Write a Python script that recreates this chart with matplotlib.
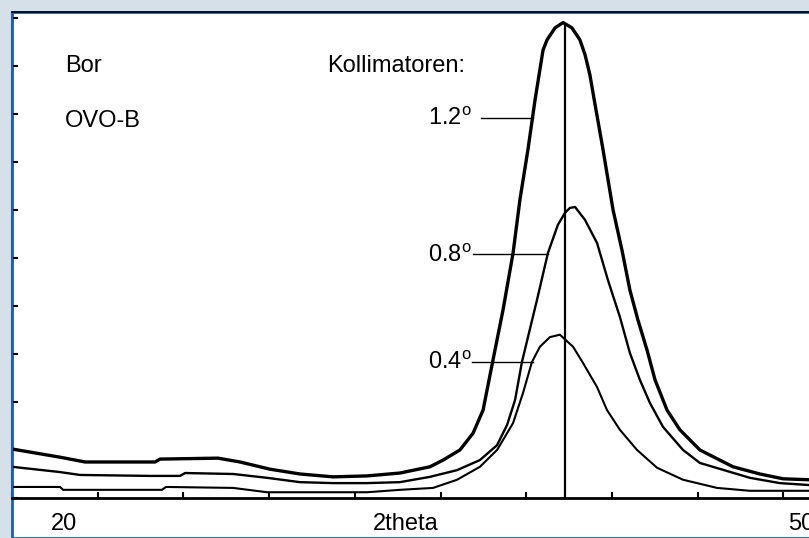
import numpy as np
import matplotlib
matplotlib.use('Agg')
import matplotlib.pyplot as plt
from matplotlib.patches import Rectangle

plt.rcParams['font.family'] = ['Liberation Sans', 'DejaVu Sans']
plt.rcParams['mathtext.fontset'] = 'custom'
plt.rcParams['mathtext.rm'] = 'Liberation Sans'

# 2theta (deg) / intensity (arb. units)
x_12 = [20.00, 21.68, 22.56, 25.01, 25.18, 27.21, 27.98, 29.03, 30.08, 31.24, 32.43, 33.58,
        34.63, 35.09, 35.68, 36.14, 36.49, 36.84, 37.19, 37.54, 37.78, 38.06, 38.31, 38.59,
        38.73, 39.01, 39.29, 39.60, 39.88, 40.06, 40.23, 40.37, 40.48, 40.69, 41.04, 41.35,
        41.63, 41.91, 42.23, 42.51, 42.93, 43.38, 44.08, 45.24, 46.18, 46.99, 47.90]
y_12 = [102, 85, 75, 75, 81, 83, 75, 60, 50, 44, 46, 52,
        65, 79, 100, 135, 183, 288, 392, 510, 621, 725, 829, 933,
        954, 979, 990, 979, 954, 923, 881, 833, 796, 725, 600, 517,
        433, 371, 308, 246, 183, 142, 100, 65, 50, 40, 38]

x_08 = [20.00, 21.68, 22.38, 24.83, 25.88, 26.06, 27.74, 28.93, 30.08, 31.24, 32.43, 33.58,
        34.63, 35.58, 36.38, 36.98, 37.33, 37.61, 37.85, 38.38, 38.76, 39.11, 39.36, 39.53,
        39.71, 40.06, 40.48, 40.86, 41.28, 41.63, 41.98, 42.33, 42.79, 43.49, 44.08, 45.83,
        46.88, 47.90]
y_08 = [65, 54, 48, 46, 46, 52, 50, 42, 33, 31, 31, 33,
        44, 58, 79, 110, 152, 204, 283, 413, 510, 569, 594, 604,
        606, 579, 531, 454, 377, 302, 246, 198, 148, 100, 73, 42,
        31, 27]

x_04 = [20.00, 21.68, 21.79, 25.25, 25.39, 27.74, 28.93, 32.43, 33.58, 34.74, 35.58, 36.38,
        36.98, 37.54, 37.89, 38.20, 38.48, 38.83, 39.18, 39.64, 39.99, 40.48, 40.83, 41.28,
        41.88, 42.58, 43.49, 44.68, 45.83, 47.90]
y_04 = [23, 23, 17, 17, 23, 21, 12, 12, 17, 21, 38, 65,
        100, 156, 219, 283, 315, 335, 340, 315, 281, 231, 183, 142,
        100, 63, 38, 21, 15, 15]

peak_pos = 39.36
labels = ['1.2', '0.8', '0.4']
label_y = [792, 508, 283]        # height of the leader lines
label_x0 = [36.42, 36.14, 36.10]
label_x1 = [38.24, 38.76, 38.24]

W, H = 809, 538
fig = plt.figure(figsize=(W/100, H/100), dpi=100, facecolor='#d5e0e8')

# white panel with blue frame
fig.patches.append(Rectangle((12/W, 0), 1, 1 - 12/H, transform=fig.transFigure,
                             facecolor='white', edgecolor='#1d5fa8', lw=2, zorder=-1))

ax = fig.add_axes([12/W, (H-498)/H, 857/W, 486/H])
ax.set_zorder(2)
ax.set_facecolor('none')
ax.plot(x_12, y_12, color='black', lw=2.4, solid_joinstyle='round')
ax.plot(x_08, y_08, color='black', lw=1.7, solid_joinstyle='round')
ax.plot(x_04, y_04, color='black', lw=1.5, solid_joinstyle='round')
ax.plot([peak_pos, peak_pos], [0, 985], color='black', lw=1.6)

for lab, yy, xa, xb in zip(labels, label_y, label_x0, label_x1):
    ax.plot([xa, xb], [yy, yy], color='black', lw=1)

ax.set_xlim(20, 50)
ax.set_ylim(0, 1012)
ax.set_xticks(np.arange(20, 51, 3))
ax.set_yticks(np.arange(0, 1001, 100))
ax.tick_params(direction='in', length=4, width=1.5, labelbottom=False, labelleft=False)
ax.spines['right'].set_visible(False)
ax.spines['bottom'].set_linewidth(2)
ax.spines['left'].set_color('#1d5fa8')
ax.spines['left'].set_linewidth(1.5)
ax.spines['top'].set_linewidth(1.2)

fs = 17
def ftext(px, py, s, **kw):
    fig.text(px/W, 1 - py/H, s, fontsize=fs, va='baseline', **kw)

ftext(65, 72, 'Bor')
ftext(65, 127, 'OVO-B')
ftext(327, 72, 'Kollimatoren:')
for lab, py in zip(labels, [125, 262, 369]):
    ftext(428, py, lab + r'$^\mathrm{o}$')
ftext(64, 530, '20', ha='center')
ftext(406, 530, '2theta', ha='center')
ftext(788, 530, '50')

fig.savefig('out.png', dpi=100, facecolor=fig.get_facecolor())
